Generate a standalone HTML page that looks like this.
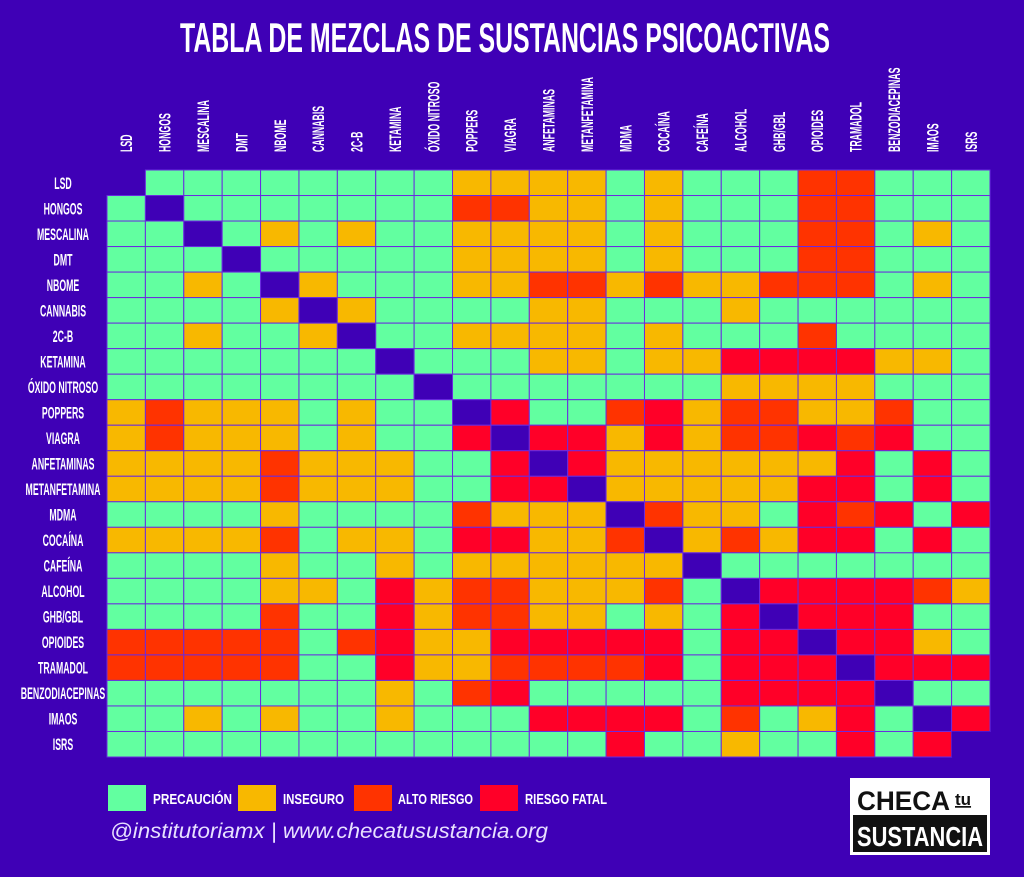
<!DOCTYPE html>
<html><head><meta charset="utf-8"><style>
html,body{margin:0;padding:0;background:#3f00b6;}
svg{display:block;}
text{font-family:"Liberation Sans",sans-serif;font-weight:bold;fill:#fff;}
</style></head><body>
<svg id="s" width="1024" height="877" viewBox="0 0 1024 877" xmlns="http://www.w3.org/2000/svg">
<rect width="1024" height="877" fill="#3f00b6"/>
<text x="505" y="52" font-size="42" text-anchor="middle" textLength="650" lengthAdjust="spacingAndGlyphs">TABLA DE MEZCLAS DE SUSTANCIAS PSICOACTIVAS</text>
<g id="grid"></g>
<g id="labels"></g>
<rect x="108" y="785" width="38" height="26" fill="#62ffa0"/>
<text x="153" y="804" font-size="15" textLength="79" lengthAdjust="spacingAndGlyphs">PRECAUCIÓN</text>
<rect x="238" y="785" width="38" height="26" fill="#f8b800"/>
<text x="283" y="804" font-size="15" textLength="61" lengthAdjust="spacingAndGlyphs">INSEGURO</text>
<rect x="354" y="785" width="38" height="26" fill="#ff3300"/>
<text x="398" y="804" font-size="15" textLength="75" lengthAdjust="spacingAndGlyphs">ALTO RIESGO</text>
<rect x="480" y="785" width="38" height="26" fill="#ff0028"/>
<text x="525" y="804" font-size="15" textLength="82" lengthAdjust="spacingAndGlyphs">RIESGO FATAL</text>
<text x="110" y="838" font-size="21" style="font-weight:normal;font-style:italic;fill:#e8e0ff" textLength="438" lengthAdjust="spacingAndGlyphs">@institutoriamx | www.checatusustancia.org</text>
<rect x="850" y="778" width="140" height="77" fill="#fff"/>
<rect x="853" y="815" width="134" height="37" fill="#111"/>
<text x="857" y="810" font-size="27" style="fill:#111" textLength="93" lengthAdjust="spacingAndGlyphs">CHECA</text>
<text x="955" y="805" font-size="17" style="fill:#111" text-decoration="underline">tu</text>
<text x="920" y="846" font-size="28" text-anchor="middle" textLength="126" lengthAdjust="spacingAndGlyphs">SUSTANCIA</text>
</svg>
<script>
var names=["LSD","HONGOS","MESCALINA","DMT","NBOME","CANNABIS","2C-B","KETAMINA","ÓXIDO NITROSO","POPPERS","VIAGRA","ANFETAMINAS","METANFETAMINA","MDMA","COCAÍNA","CAFEÍNA","ALCOHOL","GHB/GBL","OPIOIDES","TRAMADOL","BENZODIACEPINAS","IMAOS","ISRS"];
var M=[
"DGGGGGGGGYYYYGYGGGOOGGG",
"GDGGGGGGGOOYYGYGGGOOGGG",
"GGDGYGYGGYYYYGYGGGOOGYG",
"GGGDGGGGGYYYYGYGGGOOGGG",
"GGYGDYGGGYYOOYOYYOOOGYG",
"GGGGYDYGGGGYYGGGYGGGGGG",
"GGYGGYDGGYYYYGYGGGOGGGG",
"GGGGGGGDGGGYYGYYRRRRYYG",
"GGGGGGGGDGGGGGGGYYYYGGG",
"YOYYYGYGGDRGGORYOOYYOGG",
"YOYYYGYGGRDRRYRYOORORGG",
"YYYYOYYYGGRDRYYYYYYRGRG",
"YYYYOYYYGGRRDYYYYYRRGRG",
"GGGGYGGGGOYYYDOYYGRORGRR",
"YYYYOGYYGRRYYODYOYRRGRG",
"GGGGYGGYGYYYYYYDGGGGGGG",
"GGGGYYGRYOOYYYOGDRRRROY",
"GGGGOGGRYOOYYGYGRDRRRGG",
"OOOOOGORYYRRRRRGRRDRRYG",
"OOOOOGGRYYOOOORGRRRDRRR",
"GGGGGGGYGORGGGGGRRRRDGG",
"GGYGYGGYGGGRRRRGOGYRGDR",
"GGGGGGGGGGGGGRGGYGGRGRD"];
M[13]="GGGGYGGGGOYYYDOYYGRORGRR".slice(0,13)+"DOYYGRORGRR";
var C={G:"#62ffa0",Y:"#f8b800",O:"#ff3300",R:"#ff0028",D:"#3f00b6"};
var x0=107,y0=170,cw=883/23,ch=587/23,ns="http://www.w3.org/2000/svg";
var g=document.getElementById("grid"),L=document.getElementById("labels");
function el(t,a,p,txt){var e=document.createElementNS(ns,t);for(var k in a)e.setAttribute(k,a[k]);if(txt)e.textContent=txt;p.appendChild(e);return e;}
for(var r=0;r<23;r++){for(var c=0;c<23;c++){var ch0=M[r][c]||"G";
var last=(r==22&&c==22)||(r==0&&c==0);
el("rect",{x:x0+c*cw,y:y0+r*ch,width:cw,height:ch,fill:C[ch0],stroke:last?"none":"#6a2be0","stroke-width":1},g);}
el("text",{x:0,y:0,"font-size":16.5,"text-anchor":"middle",transform:"translate(63,"+(y0+r*ch+ch/2+6)+") scale(0.53,1)"},L,names[r]);
}
for(var c=0;c<23;c++){var cx=x0+c*cw+cw/2+6;
el("text",{x:0,y:0,"font-size":16.5,transform:"translate("+cx+",152) rotate(-90) scale(0.53,1)"},L,names[c]);}
</script>
</body></html>
